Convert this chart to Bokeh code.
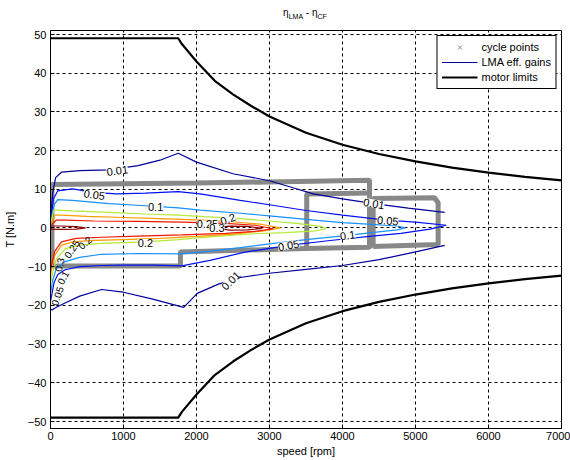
from bokeh.plotting import figure
from bokeh.models import (ColumnDataSource, Legend, LegendItem, Range1d,
                          FixedTicker, Div)
from bokeh.layouts import column
from bokeh.core.properties import value
from bokeh.embed import file_html
from bokeh.resources import INLINE

# ---------------- data ----------------
speed_ticks = [0, 1000, 2000, 3000, 4000, 5000, 6000, 7000]
torque_ticks = [-50, -40, -30, -20, -10, 0, 10, 20, 30, 40, 50]

# motor limits (speed [rpm] -> torque [N.m])
limit_rpm = [0, 1750, 1800, 2000, 2250, 2500, 2750, 3000, 3500, 4000, 4500,
             5000, 5500, 6000, 6500, 7000]
limit_tmax = [49, 49, 47.5, 43, 38, 34.5, 31.5, 28.8, 24.6, 21.5, 19.1,
              17.2, 15.6, 14.3, 13.2, 12.3]
limit_tmin = [-49, -49, -47.5, -43, -38, -34.5, -31.5, -28.8, -24.6, -21.5,
              -19.1, -17.2, -15.6, -14.3, -13.2, -12.3]

# cycle points (dense outlines)
cycle_big_rpm = [20, 20, 1000, 2000, 3000, 4370, 4370, 3500, 1780, 1780, 20]
cycle_big_nm = [-9.8, 11.2, 11.4, 11.6, 11.9, 12.3, -5.0, -5.3, -6.2, -9.8, -9.8]
cycle_mid_rpm = [3510, 3510, 4370]
cycle_mid_nm = [-5.3, 8.8, 9.0]
cycle_right_rpm = [4420, 4420, 5260, 5310, 5310, 4420]
cycle_right_nm = [-4.8, 7.6, 7.8, 6.5, -4.3, -4.8]

# efficiency-gain contour lines (eta_LMA - eta_CF)
gain_levels = [0.01, 0.05, 0.1, 0.2, 0.25, 0.3, 0.35]

gain_001_upper_rpm = [0, 30, 70, 150, 400, 800, 1200, 1500, 1750, 2000, 2500,
                      3000, 3300, 3600, 4000, 4430, 4900, 5400]
gain_001_upper_nm = [1.5, 9, 13, 14.4, 14.8, 15.0, 16.1, 17.5, 19.3, 17.0, 14.0,
                     12.2, 10.5, 8.8, 7.5, 6.3, 5.1, 4.0]
gain_001_lower_rpm = [0, 20, 50, 100, 200, 400, 700, 1000, 1400, 1825, 2010,
                      2300, 2600, 3000, 3500, 4000, 4500, 5000, 5400]
gain_001_lower_nm = [-21, -21.2, -20.8, -20.3, -19.4, -17.6, -15.9, -16.6, -18.4,
                     -20.5, -16.9, -14.5, -12.8, -11.7, -10.7, -9.7, -8.2, -6.2, -4.5]

gain_005_upper_rpm = [0, 40, 100, 300, 600, 900, 1300, 1750, 2050, 2600, 3000,
                      3500, 4000, 4600, 5000, 5420]
gain_005_upper_nm = [1.3, 7.5, 9.6, 10.1, 9.2, 8.8, 9.0, 9.4, 8.8, 7.1, 6.0,
                     4.5, 3.3, 2.0, 1.5, 0.7]
gain_005_lower_rpm = [0, 20, 50, 100, 200, 400, 700, 1000, 1400, 1800, 2200,
                      2650, 3260, 3800, 4400, 4800, 5200, 5420]
gain_005_lower_nm = [-19, -17, -14, -12, -10.8, -10.0, -9.7, -9.6, -9.6, -9.8,
                     -8.3, -6.3, -4.5, -3.3, -2.1, -1.4, -0.3, 0.7]

gain_010_rpm = [0, 50, 100, 300, 800, 1240, 1750, 2050, 2600, 3000, 3500, 4000,
                4400, 4750, 4860, 4750, 4400, 4070, 3500, 3000, 2600, 2200, 1785,
                1200, 700, 400, 200, 80, 30, 0]
gain_010_nm = [1.1, 6.0, 7.3, 7.1, 6.3, 5.8, 5.2, 4.6, 3.8, 3.1, 2.2, 1.4, 0.9,
               0.5, 0.0, -0.5, -1.2, -1.9, -3.0, -4.1, -5.1, -6.0, -6.7, -6.6,
               -6.8, -7.6, -8.7, -10.5, -13.5, -17]

gain_020_rpm = [0, 45, 100, 300, 800, 1300, 1750, 2100, 2600, 3000, 3400, 3700,
                3780, 3600, 3200, 2800, 2400, 2050, 1750, 1300, 700, 400, 200, 80,
                30, 0]
gain_020_nm = [0.9, 4.6, 4.6, 4.4, 4.0, 3.6, 3.3, 2.9, 2.4, 1.8, 1.1, 0.4, -0.2,
               -0.8, -1.2, -1.5, -2.0, -2.5, -3.0, -3.6, -4.0, -4.4, -5.4, -8,
               -11.5, -14.5]

gain_025_rpm = [0, 60, 150, 500, 1000, 1500, 2000, 2500, 2900, 3150, 2900, 2500,
                2000, 1500, 1000, 600, 300, 150, 60, 20, 0]
gain_025_nm = [0.7, 3.3, 3.3, 3.0, 2.7, 2.4, 2.1, 1.6, 0.9, 0.0, -0.8, -1.6,
               -2.2, -2.7, -3.0, -3.2, -3.6, -4.5, -7, -10, -12.5]

gain_030_rpm = [0, 80, 200, 600, 1200, 1800, 2400, 2800, 3050, 2800, 2400, 1800,
                1200, 700, 350, 150, 60, 20, 0]
gain_030_nm = [0.6, 2.0, 2.0, 1.8, 1.7, 1.5, 1.2, 0.7, -0.2, -0.9, -1.4, -1.8,
               -2.1, -2.4, -2.7, -3.6, -6, -9, -11]

gain_035a_rpm = [0, 150, 350, 480, 350, 150, 0]
gain_035a_nm = [0.5, 0.5, 0.35, 0.0, -0.3, -0.35, -0.3]
gain_035b_rpm = [2250, 2450, 2700, 2900, 2700, 2450, 2250]
gain_035b_nm = [0.1, 0.45, 0.4, -0.1, -0.5, -0.55, 0.1]

# contour labels
clabel_text = ["0.01", "0.05", "0.1", "0.2", "0.25", "0.2", "0.3",
               "0.01", "0.05", "0.1", "0.05", "0.01"]
clabel_rpm = [915, 600, 1440, 1300, 2150, 2430, 2280, 4430, 4620, 4070, 3260, 2470]
clabel_nm = [14.8, 8.6, 5.4, -3.9, 0.9, 2.3, 0.0, 6.3, 1.9, -1.9, -4.5, -13.6]
clabel_angle = [8, -8, 0, 0, 0, 20, 0, -10, -5, 8, 10, 45]

clabel_left_text = ["0.3", "0.25", "0.2", "0.1", "0.05"]
clabel_left_rpm = [120, 290, 470, 170, 90]
clabel_left_nm = [-9.5, -5.4, -3.8, -12.8, -17.6]
clabel_left_angle = [78, 55, 40, 62, 72]

# ---------------- styling ----------------
FONT = "Liberation Sans"
level_colors = {0.01: "#00009C", 0.05: "#0010F5", 0.1: "#1890FF",
                0.2: "#B4EA32", 0.25: "#FF9A00", 0.3: "#F01800", 0.35: "#8C0000"}

p = figure(width=570, height=430, x_range=Range1d(0, 7000),
           y_range=Range1d(-51.8, 51), output_backend="svg",
           toolbar_location=None, min_border_left=50, min_border_right=9,
           min_border_top=0, min_border_bottom=32)
p.background_fill_color = "white"
p.border_fill_color = "white"
p.outline_line_color = "black"
p.outline_line_width = 1
p.outline_line_alpha = 1

p.xaxis.ticker = FixedTicker(ticks=speed_ticks)
p.yaxis.ticker = FixedTicker(ticks=torque_ticks)
p.xaxis.axis_label = "speed [rpm]"
p.yaxis.axis_label = "T [N.m]"
for ax in (p.xaxis[0], p.yaxis[0]):
    ax.axis_line_color = "black"
    ax.major_tick_line_color = "black"
    ax.major_tick_in = 4
    ax.major_tick_out = 0
    ax.minor_tick_line_color = None
    ax.major_label_text_font = FONT
    ax.major_label_text_font_size = "11px"
    ax.major_label_text_color = "black"
    ax.axis_label_text_font = FONT
    ax.axis_label_text_font_size = "11px"
    ax.axis_label_text_font_style = "normal"
    ax.axis_label_text_color = "black"
p.xaxis.major_label_standoff = 3
p.xaxis.axis_label_standoff = 2
p.yaxis.major_label_standoff = 4
p.yaxis.axis_label_standoff = 9

p.grid.grid_line_color = "black"
p.grid.grid_line_dash = "3 3"
p.grid.grid_line_alpha = 1
p.grid.grid_line_width = 1

# cycle points outlines
cyc_src = ColumnDataSource(dict(
    xs=[cycle_big_rpm, cycle_mid_rpm, cycle_right_rpm],
    ys=[cycle_big_nm, cycle_mid_nm, cycle_right_nm]))
p.multi_line("xs", "ys", source=cyc_src, line_color="#888888", line_width=5)
pts_x = cycle_big_rpm + cycle_mid_rpm + cycle_right_rpm
pts_y = cycle_big_nm + cycle_mid_nm + cycle_right_nm
r_pts = p.scatter(pts_x, pts_y, marker="x", size=5, line_color="#888888")

# contours
paths = [
    (gain_001_upper_rpm, gain_001_upper_nm, 0.01),
    (gain_001_lower_rpm, gain_001_lower_nm, 0.01),
    (gain_005_upper_rpm, gain_005_upper_nm, 0.05),
    (gain_005_lower_rpm, gain_005_lower_nm, 0.05),
    (gain_010_rpm, gain_010_nm, 0.1),
    (gain_020_rpm, gain_020_nm, 0.2),
    (gain_025_rpm, gain_025_nm, 0.25),
    (gain_030_rpm, gain_030_nm, 0.3),
    (gain_035a_rpm, gain_035a_nm, 0.35),
    (gain_035b_rpm, gain_035b_nm, 0.35),
]
gain_src = ColumnDataSource(dict(
    xs=[a for a, b, c in paths], ys=[b for a, b, c in paths],
    color=[level_colors[c] for a, b, c in paths]))
r_gain = p.multi_line("xs", "ys", source=gain_src, line_color="color",
                      line_width=1.2)

# motor limits
lim_src = ColumnDataSource(dict(xs=[limit_rpm, limit_rpm], ys=[limit_tmax, limit_tmin]))
r_lim = p.multi_line("xs", "ys", source=lim_src, line_color="black", line_width=2.2)

# contour labels
lab_src = ColumnDataSource(dict(x=clabel_rpm, y=clabel_nm, t=clabel_text, a=clabel_angle))
p.text("x", "y", text="t", angle="a", angle_units="deg", source=lab_src,
       text_font=value(FONT), text_font_size="11px", text_color="black",
       text_align="center", text_baseline="middle",
       background_fill_color="white", background_fill_alpha=1.0)
lab2_src = ColumnDataSource(dict(x=clabel_left_rpm, y=clabel_left_nm,
                                 t=clabel_left_text, a=clabel_left_angle))
p.text("x", "y", text="t", angle="a", angle_units="deg", source=lab2_src,
       text_font=value(FONT), text_font_size="10px", text_color="black",
       text_align="center", text_baseline="middle")

# legend
legend = Legend(items=[
    LegendItem(label="cycle points", renderers=[r_pts]),
    LegendItem(label="LMA eff. gains", renderers=[r_gain]),
    LegendItem(label="motor limits", renderers=[r_lim]),
], location="top_right")
legend.margin = 5
legend.padding = 4
legend.spacing = 1
legend.glyph_height = 14
legend.glyph_width = 36
legend.label_standoff = 4
legend.label_height = 14
legend.label_text_font = FONT
legend.label_text_font_size = "11px"
legend.label_text_color = "black"
legend.border_line_color = "black"
legend.border_line_width = 1
legend.border_line_alpha = 1
legend.background_fill_color = "white"
legend.background_fill_alpha = 1
p.add_layout(legend)

# title: eta_LMA - eta_CF
title_div = Div(
    text='η<sub style="font-size:7px">LMA</sub> - η<sub style="font-size:7px">CF</sub>',
    width=570, height=30, margin=0,
    styles={"font-family": FONT, "font-size": "10px", "color": "black",
            "text-align": "center", "width": "570px", "height": "30px",
            "padding-left": "40px", "padding-top": "6px",
            "box-sizing": "border-box", "overflow": "hidden",
            "background": "white"})

layout = column(title_div, p, spacing=0)
open("out.html", "w").write(file_html(layout, INLINE))
